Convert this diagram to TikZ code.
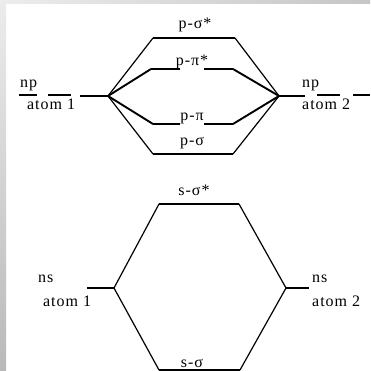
\documentclass[tikz,border=0pt]{standalone}
\usepackage{fontspec}
\newfontfamily\mofont[LetterSpace=6]{Liberation Serif}
\usetikzlibrary{positioning}
\tikzset{lvl/.style={line width=2pt}}
\tikzset{con/.style={line width=1.2pt}}
\tikzset{conb/.style={line width=1.9pt}}
\tikzset{side/.style={inner sep=0pt, anchor=base west, font=\mofont\fontsize{16}{18}\selectfont}}
\tikzset{mo/.style={inner sep=0pt, anchor=base, font=\mofont\fontsize{16}{18}\selectfont}}

\begin{document}
\begin{tikzpicture}[x=1pt,y=-1pt]
\useasboundingbox (0,0) rectangle (370,371);
\fill[white] (0,0) rectangle (370,371);
\shade[top color=gray!15,bottom color=gray!55] (0,0) rectangle (6,371);
\shade[left color=gray!15,right color=gray!45] (6,0) rectangle (370,4);

% p orbitals
\coordinate (L) at (108,96);
\coordinate (R) at (279,96);

\node[side] (np1) at (20,88) {np};
\node[side] (at1) at (27,110) {atom 1};
\node[side] (np2) at (302,88) {np};
\node[side] (at2) at (302,110) {atom 2};

\draw[con] (19,95) -- (37,95);
\draw[con] (48,95) -- (71,95);
\draw[lvl] (80,96) -- (L);
\draw[lvl] (R) -- (305,96);
\draw[con] (317,95) -- (340,95);
\draw[con] (353,95) -- (370,95);

\coordinate (ss1) at (153,38);
\coordinate (ss2) at (235,38);
\coordinate (pp1a) at (151,69);
\coordinate (pp1b) at (180,69);
\coordinate (pp2a) at (204,69);
\coordinate (pp2b) at (233,69);
\coordinate (p1a) at (153,124);
\coordinate (p1b) at (180,124);
\coordinate (p2a) at (204,124);
\coordinate (p2b) at (233,124);
\coordinate (sg1) at (153,154);
\coordinate (sg2) at (233,154);

\node[mo] (lss) at (195,29) {p-σ*};
\node[mo] (lpp) at (192,66) {p-π*};
\node[mo] (lp) at (192,121) {p-π};
\node[mo] (lsg) at (192,146) {p-σ};

\draw[lvl] (ss1) -- (ss2);
\draw[lvl] (pp1a) -- (pp1b);
\draw[lvl] (pp2a) -- (pp2b);
\draw[lvl] (p1a) -- (p1b);
\draw[lvl] (p2a) -- (p2b);
\draw[lvl] (sg1) -- (sg2);

\draw[con] (L) -- (ss1);
\draw[con] (ss2) -- (R);
\draw[conb] (L) -- (pp1a);
\draw[conb] (pp2b) -- (R);
\draw[conb] (L) -- (p1a);
\draw[conb] (p2b) -- (R);
\draw[con] (L) -- (sg1);
\draw[con] (sg2) -- (R);

% s orbitals
\coordinate (SL) at (114,288);
\coordinate (SR) at (286,288);
\coordinate (nsl) at (87,288);
\coordinate (nsr) at (309,288);
\coordinate (ts1) at (159,204);
\coordinate (ts2) at (239,204);
\coordinate (bs1) at (159,370);
\coordinate (bs2) at (240,370);

\node[side] (ns1) at (38,282) {ns};
\node[side] (as1) at (43,306) {atom 1};
\node[side] (ns2) at (312,282) {ns};
\node[side] (as2) at (312,306) {atom 2};
\node[mo] (lts) at (194,195) {s-σ*};
\node[mo] (lbs) at (192,367) {s-σ};

\draw[con] (nsl) -- (SL);
\draw[con] (SR) -- (nsr);
\draw[lvl] (ts1) -- (ts2);
\draw[lvl] (bs1) -- (bs2);
\draw[con] (SL) -- (ts1);
\draw[con] (ts2) -- (SR);
\draw[con] (SL) -- (bs1);
\draw[con] (bs2) -- (SR);
\end{tikzpicture}
\end{document}
